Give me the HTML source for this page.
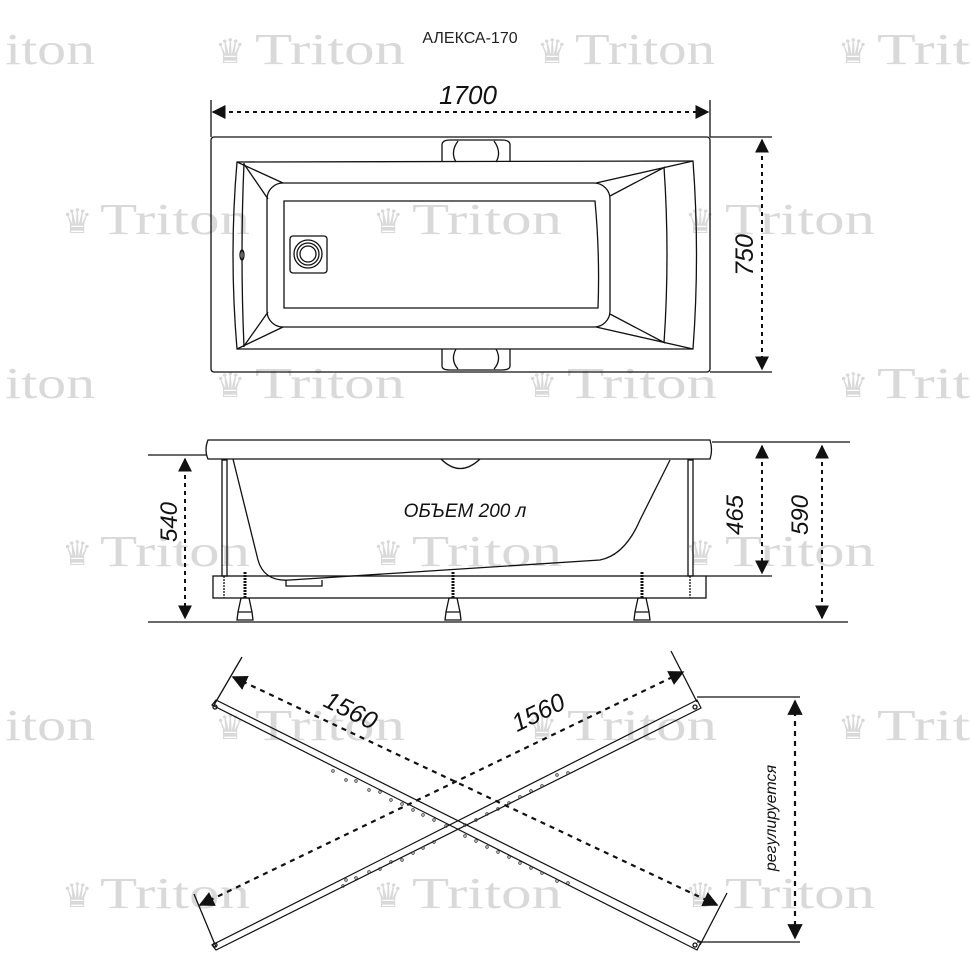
<!DOCTYPE html>
<html><head><meta charset="utf-8"><style>
html,body{margin:0;padding:0;background:#fff}
svg{display:block}
.wm{font-family:"Liberation Serif",serif;font-size:44px;fill:#d9d9d9}
.cr{font-family:"DejaVu Sans",sans-serif;font-size:34px;fill:#d9d9d9}
.t{font-family:"Liberation Sans",sans-serif;font-style:italic;fill:#111}
</style></head><body>
<svg width="970" height="970" viewBox="0 0 970 970" xmlns="http://www.w3.org/2000/svg">
<defs>
<marker id="a" viewBox="0 0 10 10" refX="9" refY="5" markerWidth="7" markerHeight="7" orient="auto-start-reverse"><path d="M0,0L10,5L0,10z" fill="#111"/></marker>
</defs>
<!-- watermarks -->
<g class="wm">
<text x="5" y="64" textLength="90" lengthAdjust="spacingAndGlyphs">iton</text>
<text x="255" y="64" textLength="150" lengthAdjust="spacingAndGlyphs">Triton</text>
<text x="575" y="64" textLength="140" lengthAdjust="spacingAndGlyphs">Triton</text>
<text x="877" y="64" textLength="93" lengthAdjust="spacingAndGlyphs">Trit</text>
<text x="100" y="234" textLength="150" lengthAdjust="spacingAndGlyphs">Triton</text>
<text x="412" y="234" textLength="150" lengthAdjust="spacingAndGlyphs">Triton</text>
<text x="725" y="234" textLength="150" lengthAdjust="spacingAndGlyphs">Triton</text>
<text x="5" y="398" textLength="90" lengthAdjust="spacingAndGlyphs">iton</text>
<text x="255" y="398" textLength="150" lengthAdjust="spacingAndGlyphs">Triton</text>
<text x="567" y="398" textLength="150" lengthAdjust="spacingAndGlyphs">Triton</text>
<text x="877" y="398" textLength="93" lengthAdjust="spacingAndGlyphs">Trit</text>
<text x="100" y="566" textLength="150" lengthAdjust="spacingAndGlyphs">Triton</text>
<text x="412" y="566" textLength="150" lengthAdjust="spacingAndGlyphs">Triton</text>
<text x="725" y="566" textLength="150" lengthAdjust="spacingAndGlyphs">Triton</text>
<text x="5" y="740" textLength="90" lengthAdjust="spacingAndGlyphs">iton</text>
<text x="255" y="740" textLength="150" lengthAdjust="spacingAndGlyphs">Triton</text>
<text x="567" y="740" textLength="150" lengthAdjust="spacingAndGlyphs">Triton</text>
<text x="877" y="740" textLength="93" lengthAdjust="spacingAndGlyphs">Trit</text>
<text x="100" y="908" textLength="150" lengthAdjust="spacingAndGlyphs">Triton</text>
<text x="412" y="908" textLength="150" lengthAdjust="spacingAndGlyphs">Triton</text>
<text x="725" y="908" textLength="150" lengthAdjust="spacingAndGlyphs">Triton</text>
</g>
<g class="cr">
<text x="215" y="63">♛</text><text x="537" y="63">♛</text><text x="838" y="63">♛</text>
<text x="62" y="233">♛</text><text x="373" y="233">♛</text><text x="685" y="233">♛</text>
<text x="215" y="397">♛</text><text x="527" y="397">♛</text><text x="838" y="397">♛</text>
<text x="62" y="565">♛</text><text x="373" y="565">♛</text><text x="685" y="565">♛</text>
<text x="215" y="739">♛</text><text x="527" y="739">♛</text><text x="838" y="739">♛</text>
<text x="62" y="907">♛</text><text x="373" y="907">♛</text><text x="685" y="907">♛</text>
</g>
<text x="470" y="43" text-anchor="middle" font-family="Liberation Sans,sans-serif" font-size="16" fill="#222">АЛЕКСА-170</text>

<g fill="none" stroke="#111" stroke-width="1.3">
<!-- TOP VIEW -->
<line x1="211" y1="100" x2="211" y2="137"/><line x1="710" y1="100" x2="710" y2="137"/>
<line x1="213" y1="112" x2="708" y2="112" stroke-dasharray="4,4" stroke-width="2" marker-start="url(#a)" marker-end="url(#a)"/>
<rect x="211" y="137" width="499" height="235" rx="3"/>
<line x1="710" y1="137" x2="772" y2="137"/><line x1="710" y1="372" x2="772" y2="372"/>
<line x1="762" y1="140" x2="762" y2="369" stroke-dasharray="4,4" stroke-width="2" marker-start="url(#a)" marker-end="url(#a)"/>
<path d="M237,162 L693,161 Q700,255 693,349 L237,349 Q229,255 237,162Z"/>
<path d="M244,163 Q240,255 244,347"/><path d="M664,167 Q670,255 664,343"/>
<rect x="267" y="183" width="343" height="144" rx="16"/>
<path d="M284,201 L595,201 Q600,255 598,308 L284,308Z"/>
<rect x="290" y="236" width="37" height="37" rx="3"/>
<circle cx="308" cy="254" r="14"/><circle cx="308" cy="254" r="11"/><circle cx="308" cy="254" r="8"/>
<ellipse cx="242" cy="255" rx="2" ry="5"/>
<path d="M237,162 L283,183 M244,164 L268,199 M237,349 L283,327 M244,346 L268,312"/>
<path d="M693,161 L596,183 M665,167 L610,196 M693,349 L596,327 M665,343 L610,314"/>
<path d="M442,162 L442,145 Q442,140 450,140 L502,140 Q510,140 510,145 L510,162 M456,162 Q450,152 458,141 M496,162 Q502,152 494,141"/>
<path d="M442,349 L442,366 Q442,370 450,370 L502,370 Q510,370 510,366 L510,349 M456,349 Q450,360 458,369 M496,349 Q502,360 494,369"/>

<!-- SIDE VIEW -->
<path d="M208,440 L710,440 Q713,450 710,459 L208,459 Q204,450 208,440Z"/>
<path d="M441,459 Q460,478 480,459"/>
<path d="M233,459 L258,560 Q264,582 290,580 L600,560 Q625,555 640,520 L670,460"/>
<rect x="213" y="576" width="493" height="22"/>
<path d="M286,580 L286,586 L322,586 L322,580"/>
<rect x="222" y="460" width="5" height="116"/><rect x="688" y="460" width="5" height="116"/>
<line x1="224" y1="576" x2="224" y2="598" stroke-dasharray="2,1"/><line x1="690" y1="576" x2="690" y2="598" stroke-dasharray="2,1"/>
<g>
<path d="M245,572 L245,598 M453,572 L453,598 M642,572 L642,598" stroke-dasharray="2,1" stroke-width="3"/>
<path d="M241,598 L249,598 L252,612 L238,612Z M238,612 L252,612 L253,620 L237,620Z"/>
<path d="M449,598 L457,598 L460,612 L446,612Z M446,612 L460,612 L461,620 L445,620Z"/>
<path d="M638,598 L646,598 L649,612 L635,612Z M635,612 L649,612 L650,620 L634,620Z"/>
</g>
<line x1="148" y1="622" x2="848" y2="622"/>
<line x1="148" y1="455" x2="207" y2="455"/>
<line x1="185" y1="459" x2="185" y2="618" stroke-dasharray="4,4" stroke-width="2" marker-start="url(#a)" marker-end="url(#a)"/>
<line x1="712" y1="442" x2="850" y2="442"/><line x1="706" y1="576" x2="772" y2="576"/>
<line x1="762" y1="446" x2="762" y2="573" stroke-dasharray="4,4" stroke-width="2" marker-start="url(#a)" marker-end="url(#a)"/>
<line x1="822" y1="446" x2="822" y2="618" stroke-dasharray="4,4" stroke-width="2" marker-start="url(#a)" marker-end="url(#a)"/>

<!-- BOTTOM: frame bars -->
<path d="M212,705 L216,700 L701,942 L697,950 Z" stroke-width="1.2"/>
<path d="M212,945 L216,950 L701,708 L697,700 Z" stroke-width="1.2"/>
<circle cx="215" cy="707" r="2"/><circle cx="695" cy="945" r="2"/><circle cx="215" cy="945" r="2"/><circle cx="695" cy="707" r="2"/>
<line x1="242" y1="657" x2="214" y2="705"/><line x1="671" y1="651" x2="697" y2="702"/>
<line x1="194" y1="894" x2="216" y2="947"/><line x1="727" y1="893" x2="700" y2="945"/>
<line x1="233" y1="677" x2="717" y2="905" stroke-dasharray="5,5" stroke-width="2.2" marker-start="url(#a)" marker-end="url(#a)"/>
<line x1="200" y1="905" x2="683" y2="672" stroke-dasharray="5,5" stroke-width="2.2" marker-start="url(#a)" marker-end="url(#a)"/>
<line x1="697" y1="697" x2="800" y2="697"/><line x1="697" y1="942" x2="800" y2="942"/>
<line x1="795" y1="701" x2="795" y2="938" stroke-dasharray="5,5" stroke-width="2.2" marker-start="url(#a)" marker-end="url(#a)"/>
</g>
<g fill="none" stroke="#333" stroke-width="0.8">
<circle cx="333" cy="771" r="1.3"/><circle cx="346" cy="780" r="1.3"/><circle cx="356" cy="781" r="1.3"/><circle cx="369" cy="790" r="1.3"/><circle cx="380" cy="792" r="1.3"/><circle cx="391" cy="800" r="1.3"/><circle cx="402" cy="804" r="1.3"/><circle cx="413" cy="810" r="1.3"/><circle cx="423" cy="815" r="1.3"/><circle cx="434" cy="820" r="1.3"/><circle cx="446" cy="826" r="1.3"/><circle cx="465" cy="836" r="1.3"/><circle cx="476" cy="841" r="1.3"/><circle cx="487" cy="847" r="1.3"/><circle cx="498" cy="852" r="1.3"/><circle cx="509" cy="857" r="1.3"/><circle cx="520" cy="863" r="1.3"/><circle cx="531" cy="868" r="1.3"/><circle cx="542" cy="873" r="1.3"/><circle cx="557" cy="881" r="1.3"/><circle cx="568" cy="883" r="1.3"/><circle cx="343" cy="886" r="1.3"/><circle cx="346" cy="880" r="1.3"/><circle cx="356" cy="878" r="1.3"/><circle cx="369" cy="872" r="1.3"/><circle cx="380" cy="869" r="1.3"/><circle cx="391" cy="862" r="1.3"/><circle cx="402" cy="860" r="1.3"/><circle cx="413" cy="853" r="1.3"/><circle cx="423" cy="848" r="1.3"/><circle cx="434" cy="842" r="1.3"/><circle cx="465" cy="825" r="1.3"/><circle cx="476" cy="820" r="1.3"/><circle cx="487" cy="814" r="1.3"/><circle cx="498" cy="809" r="1.3"/><circle cx="509" cy="803" r="1.3"/><circle cx="520" cy="797" r="1.3"/><circle cx="531" cy="791" r="1.3"/><circle cx="542" cy="786" r="1.3"/><circle cx="557" cy="775" r="1.3"/><circle cx="568" cy="773" r="1.3"/>
</g>
<text class="t" x="468" y="104" text-anchor="middle" font-size="26">1700</text>
<text class="t" font-size="25" text-anchor="middle" transform="translate(753,255) rotate(-90)">750</text>
<text class="t" x="465" y="517" text-anchor="middle" font-size="19">ОБЪЕМ 200 л</text>
<text class="t" font-size="24" text-anchor="middle" transform="translate(177,522) rotate(-90)">540</text>
<text class="t" font-size="24" text-anchor="middle" transform="translate(743,515) rotate(-90)">465</text>
<text class="t" font-size="24" text-anchor="middle" transform="translate(808,515) rotate(-90)">590</text>
<text class="t" font-size="25" text-anchor="middle" transform="translate(347,718) rotate(26)">1560</text>
<text class="t" font-size="25" text-anchor="middle" transform="translate(542,720) rotate(-26)">1560</text>
<text class="t" font-size="16" text-anchor="middle" transform="translate(776,818) rotate(-90)">регулируется</text>
</svg>
</body></html>
